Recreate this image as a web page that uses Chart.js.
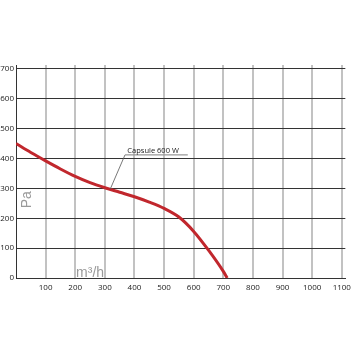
<!DOCTYPE html>
<html><head><meta charset="utf-8">
<script src="https://cdn.jsdelivr.net/npm/chart.js@4.4.0/dist/chart.umd.min.js"></script>
<style>html,body{margin:0;padding:0;background:#fff}#wrap{width:356px;height:356px}</style>
</head><body><div id="wrap"><canvas id="c" width="356" height="356"></canvas></div>
<script>
const airflow = [0, 50, 100, 150, 200, 250, 300, 350, 400, 450, 500, 550, 600, 650, 700, 713];
const pressure = [450, 420, 392, 365, 340, 319, 302, 287, 272, 254, 233, 204, 156, 93, 22, 0];
const seriesName = 'Capsule 600 W';
const xLabel = 'm³/h';
const yLabel = 'Pa';

const annot = {
  id: 'annot',
  afterDatasetsDraw(chart) {
    const {ctx, scales: {x, y}} = chart;
    ctx.save();
    ctx.strokeStyle = '#555'; ctx.lineWidth = 0.8;
    ctx.beginPath();
    ctx.moveTo(x.getPixelForValue(318), y.getPixelForValue(297));
    ctx.lineTo(x.getPixelForValue(368), y.getPixelForValue(412));
    ctx.stroke();
    ctx.strokeStyle = '#999'; ctx.lineWidth = 1.2;
    ctx.beginPath();
    ctx.moveTo(x.getPixelForValue(368), y.getPixelForValue(412));
    ctx.lineTo(x.getPixelForValue(580), y.getPixelForValue(412));
    ctx.stroke();
    ctx.fillStyle = '#222';
    ctx.font = '7.5px "Open Sans"';
    ctx.textBaseline = 'alphabetic';
    ctx.fillText(seriesName, x.getPixelForValue(376), y.getPixelForValue(420));
    ctx.fillStyle = '#9a9a9a';
    ctx.font = '14px "Liberation Sans"';
    ctx.textAlign = 'left';
    ctx.fillText(xLabel, x.getPixelForValue(203), y.getPixelForValue(5));
    ctx.save();
    ctx.translate(x.getPixelForValue(36), y.getPixelForValue(262));
    ctx.rotate(-Math.PI/2);
    ctx.textAlign = 'center';
    ctx.textBaseline = 'middle';
    ctx.fillText(yLabel, 0, 0);
    ctx.restore();
    ctx.restore();
  }
};

new Chart(document.getElementById('c'), {
  type: 'line',
  data: {
    datasets: [{
      label: seriesName,
      data: airflow.map((v, i) => ({x: v, y: pressure[i]})),
      borderColor: '#c1272d',
      borderWidth: 3,
      pointRadius: 0,
      fill: false,
      cubicInterpolationMode: 'monotone'
    }]
  },
  options: {
    responsive: false,
    animation: false,
    layout: {padding: {top: 65, right: 6, left: 0, bottom: 0}},
    plugins: {legend: {display: false}, tooltip: {enabled: false}},
    scales: {
      x: {
        type: 'linear', min: 0, max: 1112,
        afterBuildTicks(s) { s.ticks = []; for (let v = 0; v <= 1100; v += 100) s.ticks.push({value: v}); },
        afterFit(s) { s.height = 78; },
        grid: {
          color: (c) => c.tick && c.tick.value === 0 ? '#333' : '#c2c2c2',
          lineWidth: (c) => c.tick && c.tick.value === 0 ? 1 : 2,
          drawTicks: false
        },
        border: {color: '#333', width: 1},
        ticks: {
          padding: 5, maxRotation: 0, autoSkip: false,
          color: '#222', font: {size: 8, family: 'Open Sans'},
          callback: (v) => v === 0 ? '' : v
        }
      },
      y: {
        type: 'linear', min: 0, max: 713,
        afterBuildTicks(s) { s.ticks = []; for (let v = 0; v <= 700; v += 100) s.ticks.push({value: v}); },
        afterFit(s) { s.width = 16; },
        grid: {color: '#333', lineWidth: 1, drawTicks: false},
        border: {color: '#333', width: 1},
        ticks: {padding: 2, color: '#222', font: {size: 8, family: 'Open Sans'}}
      }
    }
  },
  plugins: [annot]
});
</script></body></html>
